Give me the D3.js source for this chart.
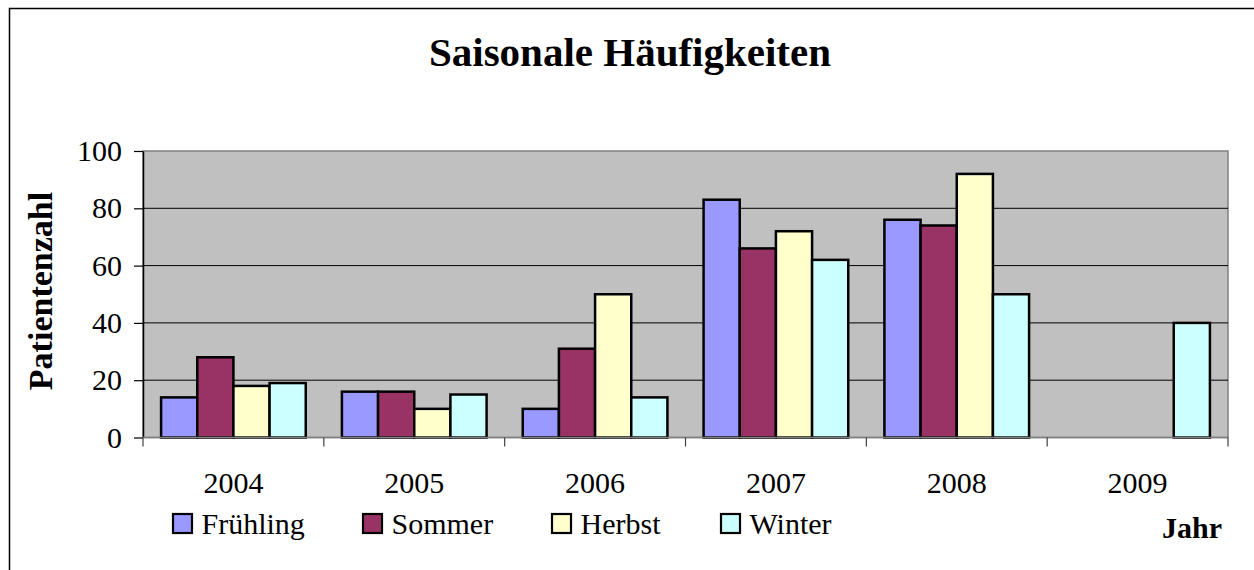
<!DOCTYPE html>
<html>
<head>
<meta charset="utf-8">
<script src="https://cdn.jsdelivr.net/npm/d3@7"></script>
<style>
  html, body { margin: 0; padding: 0; background: #fff; }
  svg { display: block; }
  svg text { font-family: "Liberation Serif", "Times New Roman", serif; }
</style>
</head>
<body>
<svg id="chart" width="1254" height="570"></svg>
<script>
// Patient counts per year, split by season
const years = ["2004", "2005", "2006", "2007", "2008", "2009"];
const seasons = ["Frühling", "Sommer", "Herbst", "Winter"];
const fruehling = [14, 16, 10, 83, 76, 0];
const sommer    = [28, 16, 31, 66, 74, 0];
const herbst    = [18, 10, 50, 72, 92, 0];
const winter    = [19, 15, 14, 62, 50, 40];
const yTicks = [0, 20, 40, 60, 80, 100];
const seasonColors = ["#9999FF", "#993366", "#FFFFCC", "#CCFFFF"];

const seriesValues = [fruehling, sommer, herbst, winter];
const rows = years.map((y, i) => ({ year: y, values: seriesValues.map(s => s[i]) }));

const FONT = "'Liberation Serif', 'Times New Roman', serif";

const svg = d3.select("#chart");
const W = 1254, H = 570;

// outer chart frame
svg.append("rect")
  .attr("x", 9.5).attr("y", 8.5)
  .attr("width", W).attr("height", H)
  .attr("fill", "#fff").attr("stroke", "#000").attr("stroke-width", 1.5);

const plot = { left: 143, top: 151, right: 1228, bottom: 437.5 };

const x = d3.scaleBand().domain(years).range([plot.left, plot.right]).paddingInner(0).paddingOuter(0);
const xs = d3.scaleBand().domain(seasons).range([0, x.bandwidth()]).paddingInner(0).paddingOuter(0.5);
const y = d3.scaleLinear().domain([0, 100]).range([plot.bottom, plot.top]);

// plot background
svg.append("rect")
  .attr("x", plot.left).attr("y", plot.top)
  .attr("width", plot.right - plot.left).attr("height", plot.bottom - plot.top)
  .attr("fill", "#C0C0C0").attr("stroke", "#808080").attr("stroke-width", 1.5);

// horizontal gridlines
svg.append("g").selectAll("line")
  .data(yTicks.filter(t => t > 0 && t < 100))
  .join("line")
  .attr("x1", plot.left).attr("x2", plot.right)
  .attr("y1", d => y(d)).attr("y2", d => y(d))
  .attr("stroke", "#000").attr("stroke-width", 1);

// bars
const groups = svg.append("g").selectAll("g")
  .data(rows).join("g")
  .attr("transform", d => `translate(${x(d.year)},0)`);

groups.selectAll("rect")
  .data(d => d.values.map((v, i) => ({ season: seasons[i], value: v, color: seasonColors[i] })))
  .join("rect")
  .filter(d => d.value > 0)
  .attr("x", d => xs(d.season))
  .attr("y", d => y(d.value))
  .attr("width", xs.bandwidth())
  .attr("height", d => y(0) - y(d.value))
  .attr("fill", d => d.color)
  .attr("stroke", "#000").attr("stroke-width", 2.5);

// y axis
const yAxis = svg.append("g")
  .attr("transform", `translate(${plot.left},0)`)
  .call(d3.axisLeft(y).tickValues(yTicks).tickSize(9).tickPadding(12).tickSizeOuter(0))
  .attr("font-family", FONT);
yAxis.select(".domain").attr("stroke", "#000").attr("stroke-width", 1.5);
yAxis.selectAll(".tick line").attr("stroke", "#000").attr("stroke-width", 1.2);
yAxis.selectAll("text")
  .attr("font-family", FONT)
  .attr("font-size", 30).attr("fill", "#000");

// x axis with ticks on category boundaries
const xAxisG = svg.append("g").attr("transform", `translate(0,${plot.bottom})`);
xAxisG.append("line")
  .attr("x1", plot.left).attr("x2", plot.right)
  .attr("stroke", "#808080").attr("stroke-width", 1.5);
xAxisG.selectAll(".bound")
  .data(years.concat(["end"]))
  .join("line")
  .attr("x1", (d, i) => plot.left + i * x.step())
  .attr("x2", (d, i) => plot.left + i * x.step())
  .attr("y1", 0).attr("y2", 9)
  .attr("stroke", "#404040").attr("stroke-width", 1.2);
xAxisG.selectAll("text")
  .data(years).join("text")
  .attr("x", d => x(d) + x.bandwidth() / 2)
  .attr("y", 55)
  .attr("text-anchor", "middle")
  .attr("font-family", FONT)
  .attr("font-size", 30).attr("fill", "#000")
  .text(d => d);

// title
svg.append("text")
  .attr("x", 630).attr("y", 66)
  .attr("text-anchor", "middle")
  .attr("font-family", FONT)
  .attr("font-size", 41).attr("font-weight", "bold")
  .text("Saisonale Häufigkeiten");

// y axis title
svg.append("text")
  .attr("transform", `translate(52,291) rotate(-90)`)
  .attr("text-anchor", "middle")
  .attr("font-family", FONT)
  .attr("font-size", 34).attr("font-weight", "bold")
  .text("Patientenzahl");

// x axis title
svg.append("text")
  .attr("x", 1192).attr("y", 538)
  .attr("text-anchor", "middle")
  .attr("font-family", FONT)
  .attr("font-size", 30).attr("font-weight", "bold")
  .text("Jahr");

// legend
const legendX = [172, 362, 551, 720];
const legend = svg.append("g").selectAll("g")
  .data(seasons).join("g")
  .attr("transform", (d, i) => `translate(${legendX[i]},513)`);
legend.append("rect")
  .attr("x", 1).attr("y", 1)
  .attr("width", 19).attr("height", 19)
  .attr("fill", (d, i) => seasonColors[i])
  .attr("stroke", "#000").attr("stroke-width", 2.2);
legend.append("text")
  .attr("x", 29.5).attr("y", 20.5)
  .attr("font-family", FONT)
  .attr("font-size", 30).attr("fill", "#000")
  .text(d => d);
</script>
</body>
</html>
